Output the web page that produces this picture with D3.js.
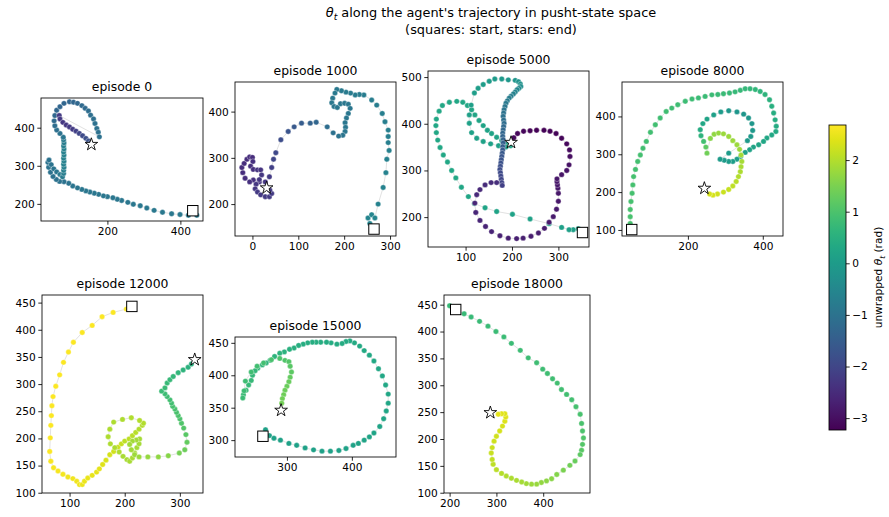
<!DOCTYPE html>
<html>
<head>
<meta charset="utf-8">
<script src="https://cdn.jsdelivr.net/npm/d3@7"></script>
<style>
  body { margin: 0; background: #fff; }
  text { font-family: "DejaVu Sans", sans-serif; fill: #000; }
</style>
</head>
<body>
<div id="chart"></div>
<script>
// trajectories: [x, y, unwrapped theta]
var episodes = [0, 1000, 5000, 8000, 12000, 15000, 18000];

var ep0 = [[445,170,-0.85],[422,170,-0.85],[399,172,-0.86],[376,174,-0.86],[351,178,-0.87],[328,183,-0.87],[308,189,-0.88],[290,195,-0.88],[271,199,-0.89],[256,204,-0.9],[239,209,-0.9],[227,212,-0.9],[215,216,-0.9],[200,219,-0.9],[189,221,-0.9],[176,225,-0.9],[164,228,-0.9],[152,231,-0.9],[141,234,-0.91],[130,238,-0.92],[118,242,-0.93],[105,247,-0.95],[94,254,-0.97],[81,258,-1.0],[69,259,-1.0],
  [60,264,-1.0],[51,272,-1.0],[44,283,-1.0],[39,296,-1.0],[37,309,-1.0],[40,315,-1.0],[46,303,-0.98],[53,292,-0.95],[61,284,-0.9],[70,277,-0.85],[77,271,-0.8],
  [80,280,-0.75],[80,288,-0.7],[81,296,-0.68],[80,304,-0.66],[81,312,-0.65],[80,320,-0.64],[81,328,-0.64],[80,336,-0.65],[81,344,-0.66],[80,352,-0.7],[81,360,-0.75],[80,368,-0.8],[79,375,-0.9],
  [70,385,-1.0],[61,394,-1.1],[56,405,-1.15],[54,418,-1.2],[56,432,-1.25],[61,446,-1.3],[70,455,-1.3],[81,464,-1.3],[96,468,-1.3],[107,467,-1.3],[118,464,-1.25],[130,458,-1.2],[139,451,-1.2],[148,444,-1.15],[154,433,-1.1],[162,423,-1.1],[166,411,-1.05],[171,398,-1.05],[175,388,-1.05],[178,376,-1.05],
  [68,432,-2.2],[70,423,-2.25],[78,414,-2.3],[87,407,-2.3],[96,402,-2.25],[105,396,-2.2],[114,391,-2.1],[123,385,-2.0],[132,379,-1.9],[141,372,-1.8],[148,365,-1.75],[153,359,-1.7]];

var ep1000 = [[265,150,-0.55],[256,158,-0.55],[252,170,-0.55],[260,177,-0.55],[267,170,-0.55],
  [274,200,-0.6],[285,236,-0.62],[291,268,-0.64],[293,297,-0.66],[298,316,-0.68],[296,333,-0.7],[296,346,-0.7],[296,360,-0.7],[289,378,-0.72],[283,396,-0.72],[271,414,-0.74],[260,425,-0.75],[243,436,-0.76],[233,437,-0.77],[224,436,-0.78],[214,440,-0.8],[204,442,-0.8],[194,445,-0.82],[184,448,-0.84],
  [180,440,-0.85],[175,429,-0.86],[173,419,-0.87],[178,411,-0.88],[185,409,-0.88],[192,417,-0.88],[201,418,-0.88],[209,416,-0.88],[213,407,-0.9],[209,396,-0.9],[205,386,-0.9],[202,376,-0.9],[203,366,-0.92],[202,357,-0.92],[197,349,-0.95],[188,347,-0.98],[176,354,-1.05],[163,367,-1.15],[139,377,-1.3],[126,375,-1.4],[107,375,-1.5],[91,367,-1.6],[78,357,-1.7],[62,339,-1.85],[51,311,-1.95],[46,297,-2.0],[42,279,-2.1],[37,259,-2.2],
  [28,248,-2.3],[15,248,-2.35],[2,252,-2.4],[-6,248,-2.4],[-16,256,-2.45],[-21,268,-2.45],[-23,279,-2.45],[-18,288,-2.45],[-12,297,-2.45],[-6,302,-2.45],[0,301,-2.45],[1,292,-2.4],[-4,282,-2.4],[2,275,-2.4],[11,274,-2.35],[18,274,-2.35],[20,263,-2.3],[15,253,-2.3],[8,243,-2.3],[6,233,-2.3],[11,226,-2.25],[18,220,-2.25],[28,216,-2.2],[37,216,-2.2],[42,223,-2.2],[38,230,-2.2]];

var ep5000 = [[343,175,0.1],[332,173,0.1],[323,173,0.1],[307,178,0.1],[280,186,0.12],[239,196,0.15],[201,206,0.18],[167,212,0.2],[142,220,0.22],[119,229,0.24],
  [106,244,0.25],[91,264,0.27],[79,284,0.28],[70,300,0.3],[61,318,0.3],[52,333,0.3],[45,349,0.3],[40,365,0.3],[37,381,0.3],[36,396,0.3],[37,410,0.3],[43,427,0.3],[50,439,0.3],[65,446,0.3],[81,448,0.3],[94,446,0.3],[104,439,0.28],
  [113,430,0.25],[120,419,0.25],[129,407,0.22],[138,396,0.2],[147,386,0.2],[156,379,0.2],[167,371,0.2],[178,364,0.2],[189,357,0.2],[197,353,0.2],
  [187,350,0.15],[171,353,0.15],[154,357,0.15],[138,362,0.15],[124,369,0.15],[113,381,0.15],[108,401,0.12],[108,419,0.1],
  [112,440,0.08],[119,466,0.05],[127,476,0.05],[138,484,0.03],[151,491,0.0],[163,496,-0.02],[178,496,-0.05],[192,494,-0.1],[207,493,-0.15],[214,490,-0.2],[218,485,-0.25],[219,480,-0.3],[215,476,-0.4],[211,473,-0.5],[207,468,-0.55],[203,464,-0.6],[198,459,-0.7],[194,455,-0.75],[190,449,-0.8],[187,444,-0.85],[185,437,-0.9],[183,430,-0.95],[182,423,-1.0],[181,416,-1.05],[182,408,-1.1],[183,401,-1.15],[182,394,-1.2],[181,387,-1.25],[180,380,-1.3],[180,373,-1.35],[181,366,-1.4],[181,359,-1.45],[180,351,-1.5],[180,344,-1.55],[179,337,-1.6],[178,330,-1.65],[177,323,-1.7],[176,316,-1.75],[175,309,-1.8],[174,302,-1.85],[175,295,-1.9],[176,288,-1.95],[177,281,-2.0],[178,274,-2.05],[179,268,-2.1],
  [167,274,-2.45],[155,274,-2.5],[142,269,-2.5],[131,259,-2.55],[124,248,-2.55],[120,230,-2.6],[122,210,-2.6],[131,193,-2.62],[143,180,-2.65],[156,169,-2.65],[174,160,-2.68],[192,155,-2.7],[210,154,-2.7],[224,155,-2.72],[241,159,-2.75],[257,166,-2.75],[270,176,-2.78],[280,189,-2.8],[289,201,-2.8],[296,217,-2.82],[300,234,-2.85],[300,251,-2.85],[299,262,-2.85],[298,269,-2.85],[297,276,-2.85],[297,282,-2.85],
  [307,291,-2.9],[318,300,-2.92],[323,312,-2.95],[325,330,-3.0],[324,344,-3.05],[318,357,-3.1],[307,369,-3.15],[295,379,-3.18],[282,384,-3.2],[269,386,-3.2],[253,386,-3.2],[239,385,-3.18],[225,384,-3.15],[212,379,-3.12],[204,370,-3.1]];

var ep8000 = [[50,101,0.95],[46,117,0.95],[46,135,0.95],[46,154,0.95],[48,175,0.94],[51,197,0.94],[53,219,0.93],[55,241,0.93],[60,260,0.92],[66,281,0.92],[73,298,0.91],[80,316,0.9],[89,334,0.9],[100,358,0.89],[113,378,0.88],[126,396,0.87],[142,413,0.86],[157,422,0.85],[173,431,0.84],[193,440,0.83],[211,446,0.82],[228,449,0.81],[246,453,0.8],[264,457,0.79],[280,458,0.78],[295,460,0.77],[311,462,0.76],[326,465,0.74],[340,469,0.72],[353,473,0.7],[366,473,0.68],[380,471,0.65],[393,466,0.62],[406,458,0.58],[418,444,0.54],[424,427,0.5],[429,409,0.46],[433,391,0.42],[436,374,0.38],[435,360,0.35],[424,351,0.32],[411,343,0.3],[402,334,0.27],[389,325,0.24],[375,319,0.2],[365,312,0.17],[353,305,0.14],[341,294,0.1],[331,287,0.07],[320,281,0.04],[309,281,0.02],[297,284,0.0],[286,287,0.0],
  [309,303,-0.02],[359,336,-0.05],[368,347,-0.05],[373,363,-0.08],[371,381,-0.1],[362,396,-0.1],[349,406,-0.12],[331,412,-0.12],[309,415,-0.1],[288,412,0.0],[269,404,0.1],[251,393,0.2],[240,381,0.3],[233,365,0.4],[235,349,0.6],[242,334,0.9],[248,319,1.2],[251,303,1.4],
  [260,342,1.6],[270,353,1.7],[282,356,1.75],[295,354,1.78],[309,347,1.8],[320,336,1.8],[331,325,1.8],[338,313,1.82],[342,298,1.85],[344,281,1.88],[342,267,1.9],[340,254,1.95],[335,241,2.0],[329,228,2.05],[320,216,2.1],[309,207,2.15],[295,200,2.2],[279,195,2.25],[267,192,2.3],[258,195,2.3]];

var ep12000 = [[213,443,2.65],[203,438,2.65],[179,432,2.65],[159,424,2.65],[141,408,2.65],[123,395,2.65],[107,377,2.65],[98,359,2.65],[89,340,2.65],[82,317,2.65],[75,296,2.65],[70,277,2.65],[68,260,2.65],[67,242,2.65],[66,224,2.65],[65,201,2.65],[64,176,2.65],[66,158,2.62],[71,146,2.6],[79,140,2.6],[88,134,2.58],[97,129,2.56],[106,126,2.55],[113,121,2.55],[118,115,2.52],[123,115,2.5],[127,121,2.5],[133,127,2.48],[141,132,2.46],[149,138,2.45],[154,144,2.43],[160,152,2.4],[166,160,2.35],[173,170,2.3],[180,176,2.25],[188,184,2.2],[194,190,2.15],[200,195,2.1],[208,199,2.1],[214,205,2.05],[220,211,2.05],[226,217,2.0],[232,224,2.0],[234,228,2.0],[227,233,2.0],[212,238,1.98],[196,235,1.95],[180,230,1.95],[173,217,1.95],[170,203,1.95],[174,190,1.95],[182,183,1.95],[190,175,1.95],[197,167,1.9],[204,161,1.9],[209,158,1.9],[214,164,1.9],[218,173,1.88],[222,183,1.88],[226,190,1.88],[227,199,1.88],[221,197,1.85],[214,195,1.85],[209,189,1.85],[212,179,1.85],[218,170,1.82],[226,166,1.8],[242,166,1.75],[261,166,1.7],[279,168,1.6],[299,173,1.45],[309,179,1.35],[313,193,1.25],[311,207,1.15],[307,219,1.1],[303,228,1.05],[300,236,1.0],[297,242,1.0],[294,248,0.98],[291,254,0.95],[287,259,0.93],[285,265,0.9],[282,271,0.88],[277,277,0.85],[273,282,0.82],[267,287,0.8],[273,293,0.78],[277,302,0.75],[282,308,0.72],[288,314,0.7],[297,321,0.65],[306,326,0.6],[315,331,0.55],[321,337,0.5]];

var ep15000 = [[267,316,0.15],[273,307,0.15],[280,303,0.15],[290,300,0.15],[303,295,0.15],[315,292,0.15],[328,288,0.15],[341,285,0.15],[354,283,0.15],[367,283,0.15],[380,284,0.16],[391,287,0.17],[402,292,0.18],[410,295,0.19],[419,300,0.2],[427,305,0.21],[434,311,0.22],[443,321,0.23],[449,333,0.24],[453,345,0.25],[456,357,0.26],[456,371,0.27],[452,385,0.28],[447,399,0.29],[441,410,0.3],[434,422,0.31],[427,431,0.32],[419,438,0.33],[412,445,0.34],[404,450,0.35],[397,453,0.36],[391,452,0.37],[385,449,0.38],[377,448,0.39],[368,450,0.4],[361,451,0.41],[352,451,0.42],[345,451,0.43],[339,451,0.44],[332,450,0.45],[325,448,0.46],[318,446,0.48],[311,442,0.5],[304,440,0.52],[296,436,0.54],[289,434,0.56],[281,429,0.58],[274,423,0.6],[268,419,0.62],[262,416,0.64],[255,411,0.66],[251,407,0.68],[247,400,0.7],[245,392,0.72],[241,385,0.74],[237,377,0.76],[233,370,0.78],[232,365,0.8],[234,376,0.82],[236,391,0.84],[245,405,0.86],[254,414,0.88],[264,419,0.9],[276,424,0.95],[289,426,1.0],[297,423,1.05],[303,421,1.1],[305,414,1.15],[307,405,1.2],[305,397,1.25],[303,390,1.3],[300,383,1.32],[297,377,1.35],[295,370,1.38],[293,364,1.4],[292,357,1.42]];

var ep18000 = [[200,448,0.75],[231,433,0.75],[246,427,0.76],[264,419,0.77],[282,410,0.78],[299,400,0.79],[316,390,0.8],[332,378,0.81],[351,365,0.82],[368,351,0.83],[386,342,0.84],[399,330,0.85],[409,322,0.86],[420,312,0.87],[430,304,0.88],[439,292,0.89],[450,283,0.9],[461,273,0.92],[470,260,0.94],[479,246,0.96],[482,229,0.98],[484,215,1.0],[486,202,1.05],[484,190,1.1],[482,179,1.15],[479,171,1.2],[468,159,1.3],[457,151,1.4],[443,142,1.5],[429,134,1.58],[418,126,1.63],[407,122,1.68],[396,119,1.72],[386,116,1.76],[375,116,1.8],[364,117,1.84],[354,120,1.88],[343,123,1.92],[332,127,1.95],[321,131,1.98],[311,136,2.02],[300,143,2.06],[293,153,2.1],[291,162,2.14],[289,174,2.18],[291,184,2.2],[295,196,2.23],[300,205,2.26],[307,215,2.3],[313,224,2.33],[318,233,2.36],[320,241,2.38],[318,247,2.4],[311,247,2.42],[304,246,2.44]];

var trajectories = [ep0, ep1000, ep5000, ep8000, ep12000, ep15000, ep18000];

// start (square) and end (star) markers
var starts = [[434,182],[265,146],[352,167],[50,101],[213,443],[263,306],[213,441]];
var ends = [[156,356],[31,235],[198,360],[244,210],[327,345],[291,346],[287,249]];

var xTicks = [[200,400],[0,100,200,300],[100,200,300],[200,400],[100,200,300],[300,400],[200,300,400]];
var yTicks = [[200,300,400],[200,300,400],[200,300,400,500],[100,200,300,400],
  [100,150,200,250,300,350,400,450],[300,350,400,450],[100,150,200,250,300,350,400,450]];
var cbTicks = [-3,-2,-1,0,1,2];
var thetaRange = [-3.23, 2.68];

// panel layout: pixel box [left, top, right, bottom] and axis limits
var panels = [
  {box:[41,98,203,221],  xlim:[18,462],  ylim:[155,478]},
  {box:[235,82,396,236], xlim:[-38,313], ylim:[131,464]},
  {box:[428,71,589,247], xlim:[19,366],  ylim:[136,513]},
  {box:[622,82,783,236], xlim:[24,454],  ylim:[84,491]},
  {box:[42,295,203,493], xlim:[50,342],  ylim:[99.5,464]},
  {box:[235,337,396,457],xlim:[220,468], ylim:[274,459]},
  {box:[444,295,590,493],xlim:[188,500], ylim:[99.5,468]}
];

var W = 889, H = 517;
var svg = d3.select("#chart").append("svg")
    .attr("width", W)
    .attr("height", H);

var color = d3.scaleSequential(d3.interpolateViridis).domain(thetaRange).clamp(true);
var fmt = function(d) { return d < 0 ? "\u2212" + Math.abs(d) : "" + d; };

// suptitle
var t1 = svg.append("text").attr("x", 491).attr("y", 17)
    .attr("text-anchor", "middle").style("font-size", "12.9px");
t1.append("tspan").style("font-style", "italic").text("\u03b8");
t1.append("tspan").attr("dy", 3).style("font-size", "9.2px").style("font-style", "italic").text("t");
t1.append("tspan").attr("dy", -3).text(" along the agent's trajectory in pusht-state space");
svg.append("text").attr("x", 491).attr("y", 34)
    .attr("text-anchor", "middle").style("font-size", "12.9px")
    .text("(squares: start, stars: end)");

panels.forEach(function(p, i) {
    var data = trajectories[i];
    var x = d3.scaleLinear().domain(p.xlim).range([p.box[0], p.box[2]]);
    var y = d3.scaleLinear().domain(p.ylim).range([p.box[3], p.box[1]]);
    var g = svg.append("g");

    g.append("clipPath").attr("id", "clip" + i)
      .append("rect")
        .attr("x", p.box[0]).attr("y", p.box[1])
        .attr("width", p.box[2] - p.box[0]).attr("height", p.box[3] - p.box[1]);

    var inner = g.append("g").attr("clip-path", "url(#clip" + i + ")");

    inner.append("path")
        .datum(data)
        .attr("d", d3.line().x(function(d) { return x(d[0]); }).y(function(d) { return y(d[1]); }))
        .attr("fill", "none")
        .attr("stroke", "#c9c9c9")
        .attr("stroke-width", 0.8)
        .attr("opacity", 0.7);

    inner.selectAll("circle")
        .data(data)
        .join("circle")
        .attr("cx", function(d) { return x(d[0]); })
        .attr("cy", function(d) { return y(d[1]); })
        .attr("r", 2.7)
        .attr("fill", function(d) { return color(d[2]); })
        .attr("stroke", "#fff")
        .attr("stroke-width", 0.35);

    inner.append("rect")
        .attr("x", x(starts[i][0]) - 5.2)
        .attr("y", y(starts[i][1]) - 5.2)
        .attr("width", 10.4).attr("height", 10.4)
        .attr("fill", "#fff").attr("stroke", "#000").attr("stroke-width", 1);

    inner.append("path")
        .attr("d", d3.symbol().type(d3.symbolStar).size(50)())
        .attr("transform", "translate(" + x(ends[i][0]) + "," + y(ends[i][1]) + ")")
        .attr("fill", "#fff").attr("stroke", "#000").attr("stroke-width", 0.9);

    // axes
    var xa = g.append("g")
        .attr("transform", "translate(0," + p.box[3] + ")")
        .call(d3.axisBottom(x).tickValues(xTicks[i]).tickSize(3.7).tickPadding(2.5).tickFormat(fmt));
    var ya = g.append("g")
        .attr("transform", "translate(" + p.box[0] + ",0)")
        .call(d3.axisLeft(y).tickValues(yTicks[i]).tickSize(3.7).tickPadding(2.5).tickFormat(fmt));
    [xa, ya].forEach(function(a) {
        a.select(".domain").remove();
        a.selectAll("line").attr("stroke", "#000").attr("stroke-width", 0.85);
        a.selectAll("text").style("font-size", "10.6px").style("font-family", "DejaVu Sans").attr("fill", "#000");
    });

    g.append("rect")
        .attr("x", p.box[0]).attr("y", p.box[1])
        .attr("width", p.box[2] - p.box[0]).attr("height", p.box[3] - p.box[1])
        .attr("fill", "none").attr("stroke", "#000").attr("stroke-width", 0.85);

    g.append("text")
        .attr("x", (p.box[0] + p.box[2]) / 2)
        .attr("y", p.box[1] - 7)
        .attr("text-anchor", "middle")
        .style("font-size", "12.4px")
        .text("episode " + episodes[i]);
});

// colorbar
var cb = {x: 829, y0: 125, y1: 430, w: 17};
var defs = svg.append("defs");
var grad = defs.append("linearGradient").attr("id", "cbgrad")
    .attr("x1", 0).attr("y1", 1).attr("x2", 0).attr("y2", 0);
d3.range(0, 1.0001, 0.05).forEach(function(t) {
    grad.append("stop").attr("offset", t).attr("stop-color", d3.interpolateViridis(t));
});
svg.append("rect")
    .attr("x", cb.x).attr("y", cb.y0).attr("width", cb.w).attr("height", cb.y1 - cb.y0)
    .attr("fill", "url(#cbgrad)").attr("stroke", "#000").attr("stroke-width", 0.85);
var cy = d3.scaleLinear().domain(thetaRange).range([cb.y1, cb.y0]);
var cba = svg.append("g")
    .attr("transform", "translate(" + (cb.x + cb.w) + ",0)")
    .call(d3.axisRight(cy).tickValues(cbTicks).tickSize(3.7).tickPadding(2.5).tickFormat(fmt));
cba.select(".domain").remove();
cba.selectAll("line").attr("stroke", "#000").attr("stroke-width", 0.85);
cba.selectAll("text").style("font-size", "10.6px").style("font-family", "DejaVu Sans").attr("fill", "#000");

var lab = svg.append("text")
    .attr("transform", "translate(882," + ((cb.y0 + cb.y1) / 2) + ") rotate(-90)")
    .attr("text-anchor", "middle")
    .style("font-size", "10.6px");
lab.append("tspan").text("unwrapped ");
lab.append("tspan").style("font-style", "italic").text("\u03b8");
lab.append("tspan").attr("dy", 2.5).style("font-size", "7.5px").style("font-style", "italic").text("t");
lab.append("tspan").attr("dy", -2.5).text(" (rad)");
</script>
</body>
</html>
